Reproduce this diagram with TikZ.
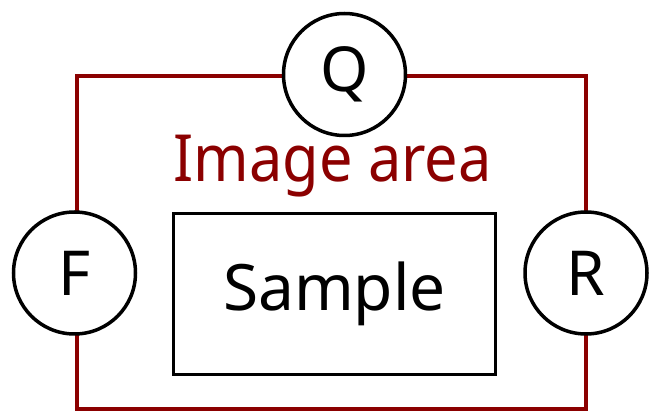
\documentclass[tikz,border=0pt]{standalone}
\usepackage{fontspec}
\usepackage{graphicx}
\setmainfont{Noto Sans}
\definecolor{areared}{RGB}{139,0,0}
\begin{document}
\begin{tikzpicture}[x=1pt,y=-1pt,
  det/.style={circle,draw=black,line width=3.5pt,fill=white,minimum size=122pt,inner sep=0pt,font=\fontsize{62}{62}\selectfont},
  samplebox/.style={draw=black,line width=3.5pt,minimum width=322pt,minimum height=161pt,inner sep=0pt,font=\fontsize{64}{64}\selectfont}]
\useasboundingbox (0,0) rectangle (651,411);
\coordinate (tl) at (77,76);
\coordinate (br) at (586,409);
\draw[areared,line width=4.5pt] (tl) rectangle (br);
\node[det] (Q) at (344.5,74.5) {Q};
\node[det] (F) at (74.5,273) {F};
\node[det] (R) at (586,273) {R};
\node[samplebox] (S) at (334.5,294) {Sample};
\node[text=areared,font=\fontsize{65}{65}\selectfont,anchor=base,inner sep=0pt] (IA) at (332.5,182) {\scalebox{0.915}[1]{Image area}};
\end{tikzpicture}
\end{document}
